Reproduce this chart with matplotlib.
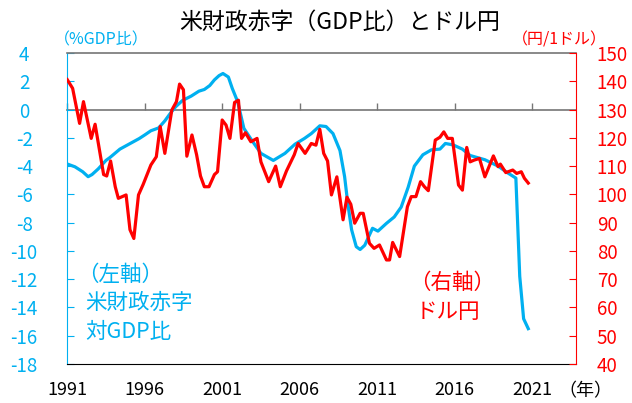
import matplotlib

matplotlib.use("Agg")
import matplotlib.pyplot as plt
import numpy as np

plt.rcParams["font.family"] = ["Noto Sans CJK JP", "DejaVu Sans"]

# US federal deficit, % of GDP (left axis)
deficit_t = np.array([
    1991.0, 1991.5, 1992.0, 1992.35, 1992.6, 1993.0, 1993.5, 1993.75, 1994.4,
    1994.9, 1995.65, 1996.0, 1996.4, 1996.9, 1997.3, 1997.7, 1998.0, 1998.45,
    1999.0, 1999.5, 1999.85, 2000.2, 2000.5, 2000.8, 2001.05, 2001.4, 2001.65,
    2002.0, 2002.4, 2002.9, 2003.5, 2004.3, 2005.05, 2005.7, 2006.3, 2006.75,
    2007.3, 2007.7, 2008.15, 2008.6, 2008.9, 2009.1, 2009.35, 2009.65, 2009.9,
    2010.2, 2010.7, 2011.05, 2011.6, 2012.1, 2012.55, 2013.0, 2013.4, 2013.95,
    2014.5, 2015.05, 2015.4, 2015.9, 2016.5, 2017.0, 2017.95, 2018.8, 2019.45,
    2019.95, 2020.2, 2020.45, 2020.75,
])
deficit = np.array([
    -3.85, -4.05, -4.4, -4.75, -4.6, -4.2, -3.6, -3.4, -2.8,
    -2.5, -2.05, -1.8, -1.5, -1.3, -0.8, -0.2, 0.2, 0.65,
    0.95, 1.3, 1.42, 1.7, 2.1, 2.4, 2.55, 2.3, 1.5,
    0.55, -1.33, -2.16, -3.1, -3.6, -3.1, -2.45, -2.05, -1.7,
    -1.15, -1.2, -1.7, -2.9, -4.75, -6.6, -8.5, -9.7, -9.9,
    -9.6, -8.4, -8.6, -8.05, -7.6, -6.9, -5.5, -4.0, -3.2,
    -2.85, -2.8, -2.4, -2.5, -2.8, -3.25, -3.55, -4.0, -4.5,
    -4.85, -11.8, -14.8, -15.5,
])

# USD/JPY (right axis)
usdjpy_t = np.array([
    1991.0, 1991.35, 1991.8, 1992.05, 1992.55, 1992.8, 1993.35, 1993.55, 1993.8,
    1994.1, 1994.3, 1994.8, 1995.05, 1995.3, 1995.6, 1995.9, 1996.4, 1996.75,
    1997.0, 1997.3, 1997.75, 1998.05, 1998.25, 1998.5, 1998.72, 1999.05, 1999.35,
    1999.6, 1999.85, 2000.15, 2000.5, 2000.7, 2001.0, 2001.25, 2001.5, 2001.8,
    2002.05, 2002.25, 2002.5, 2002.85, 2003.25, 2003.5, 2004.0, 2004.45, 2004.75,
    2005.15, 2005.65, 2005.9, 2006.35, 2006.75, 2007.05, 2007.3, 2007.55, 2007.8,
    2008.05, 2008.4, 2008.8, 2009.05, 2009.3, 2009.55, 2009.9, 2010.1, 2010.5,
    2010.8, 2011.15, 2011.6, 2011.8, 2012.0, 2012.45, 2012.95, 2013.2, 2013.5,
    2013.8, 2014.05, 2014.3, 2014.75, 2015.05, 2015.3, 2015.55, 2015.85, 2016.25,
    2016.5, 2016.78, 2017.0, 2017.25, 2017.6, 2017.95, 2018.5, 2018.8, 2018.95,
    2019.3, 2019.75, 2020.0, 2020.3, 2020.5, 2020.75,
])
usdjpy = np.array([
    140.6, 137.5, 125.1, 132.8, 119.8, 124.8, 107.0, 106.5, 111.8,
    102.7, 98.6, 99.8, 87.5, 84.4, 99.8, 103.5, 110.4, 113.3,
    124.0, 114.5, 129.8, 132.8, 139.0, 137.0, 113.5, 121.0, 114.0,
    106.5, 102.7, 102.7, 107.0, 108.0, 126.3, 124.5, 119.8, 132.5,
    133.3, 119.8, 121.8, 118.6, 119.8, 111.5, 104.5, 110.0, 102.7,
    108.3, 114.0, 118.0, 114.5, 118.0, 117.4, 123.0, 114.5, 111.8,
    99.8, 106.2, 91.0, 99.0, 96.5, 89.8, 93.3, 93.3, 82.7,
    80.9, 82.1, 76.8, 76.8, 83.0, 78.0, 95.6, 99.2, 99.2,
    104.5, 102.7, 101.3, 119.2, 120.2, 122.1, 119.8, 119.8, 103.3,
    101.5, 116.6, 111.5, 112.1, 112.7, 106.2, 113.6, 109.8, 110.7,
    107.7, 108.6, 107.4, 108.0, 105.7, 104.0,
])

year_ticks = [1991, 1996, 2001, 2006, 2011, 2016, 2021]
left_ticks = list(range(-18, 5, 2))
right_ticks = list(range(40, 151, 10))

BLUE = "#00B0F0"
RED = "#FF0000"
GRAY = "#767676"

W, H = 632, 403
fig = plt.figure(figsize=(W / 100, H / 100), dpi=100)
ax = fig.add_axes([67.2 / W, 39 / H, (576 - 67.2) / W, (364 - 53) / H])
ax2 = ax.twinx()

ax.plot(deficit_t, deficit, color=BLUE, lw=2.3, solid_joinstyle="round")
ax2.plot(usdjpy_t, usdjpy, color=RED, lw=2.3, solid_joinstyle="round")

ax.set_xlim(1991, 2023.83)
ax.set_ylim(-18, 4)
ax2.set_ylim(40, 150)

# left axis
ax.set_yticks(left_ticks)
ax.set_yticklabels([str(v) for v in left_ticks])
ax.tick_params(axis="y", direction="in", length=5, color=BLUE, labelcolor=BLUE,
               labelsize=13.5, pad=31)
for lbl in ax.get_yticklabels():
    lbl.set_horizontalalignment("center")

# right axis
ax2.set_yticks(right_ticks)
ax2.tick_params(axis="y", direction="in", length=5, color=RED, labelcolor=RED,
                labelsize=13.5, pad=15)

# x axis labels at the bottom, tick marks on the zero line
ax.set_xticks(year_ticks)
ax.set_xticklabels([str(y) for y in year_ticks])
ax.tick_params(axis="x", length=0, labelsize=13, pad=12, labelcolor="#000000")
zero_pos = (0 - ax.get_ylim()[0]) / (ax.get_ylim()[1] - ax.get_ylim()[0])
sec = ax.secondary_xaxis(zero_pos)
sec.set_xticks(year_ticks)
sec.tick_params(axis="x", direction="out", length=5, color=GRAY, labeltop=False,
                labelbottom=False, width=1)
sec.spines["top"].set_color(GRAY)
sec.spines["top"].set_linewidth(1.2)

ax.spines["left"].set_color(BLUE)
ax.spines["top"].set_color(GRAY)
ax.spines["top"].set_linewidth(1.2)
ax.spines["bottom"].set_color("#000000")
ax.spines["right"].set_visible(False)
ax2.spines["right"].set_color(RED)
for s in ["left", "top", "bottom"]:
    ax2.spines[s].set_visible(False)

# titles and notes
fig.text(340 / W, 1 - 22 / H, "米財政赤字（GDP比）とドル円", fontsize=16.5,
         ha="center", va="center")
fig.text(101 / W, 1 - 40 / H, "（%GDP比）", fontsize=11.5, color=BLUE,
         ha="center", va="center")
fig.text(559 / W, 1 - 40 / H, "（円/1ドル）", fontsize=11.5, color=RED,
         ha="center", va="center")
fig.text(585 / W, 1 - 391 / H, "（年）", fontsize=13, color="#000000",
         ha="center", va="center")

for txt, x, y in zip(["（左軸）", "米財政赤字", "対GDP比"], [77, 85, 85], [275, 303, 332]):
    fig.text(x / W, 1 - y / H, txt, fontsize=15.5, color=BLUE, ha="left", va="center")
for txt, x, y in zip(["（右軸）", "ドル円"], [409, 416], [283, 312]):
    fig.text(x / W, 1 - y / H, txt, fontsize=15.5, color=RED, ha="left", va="center")

fig.savefig("out.png", dpi=100)
